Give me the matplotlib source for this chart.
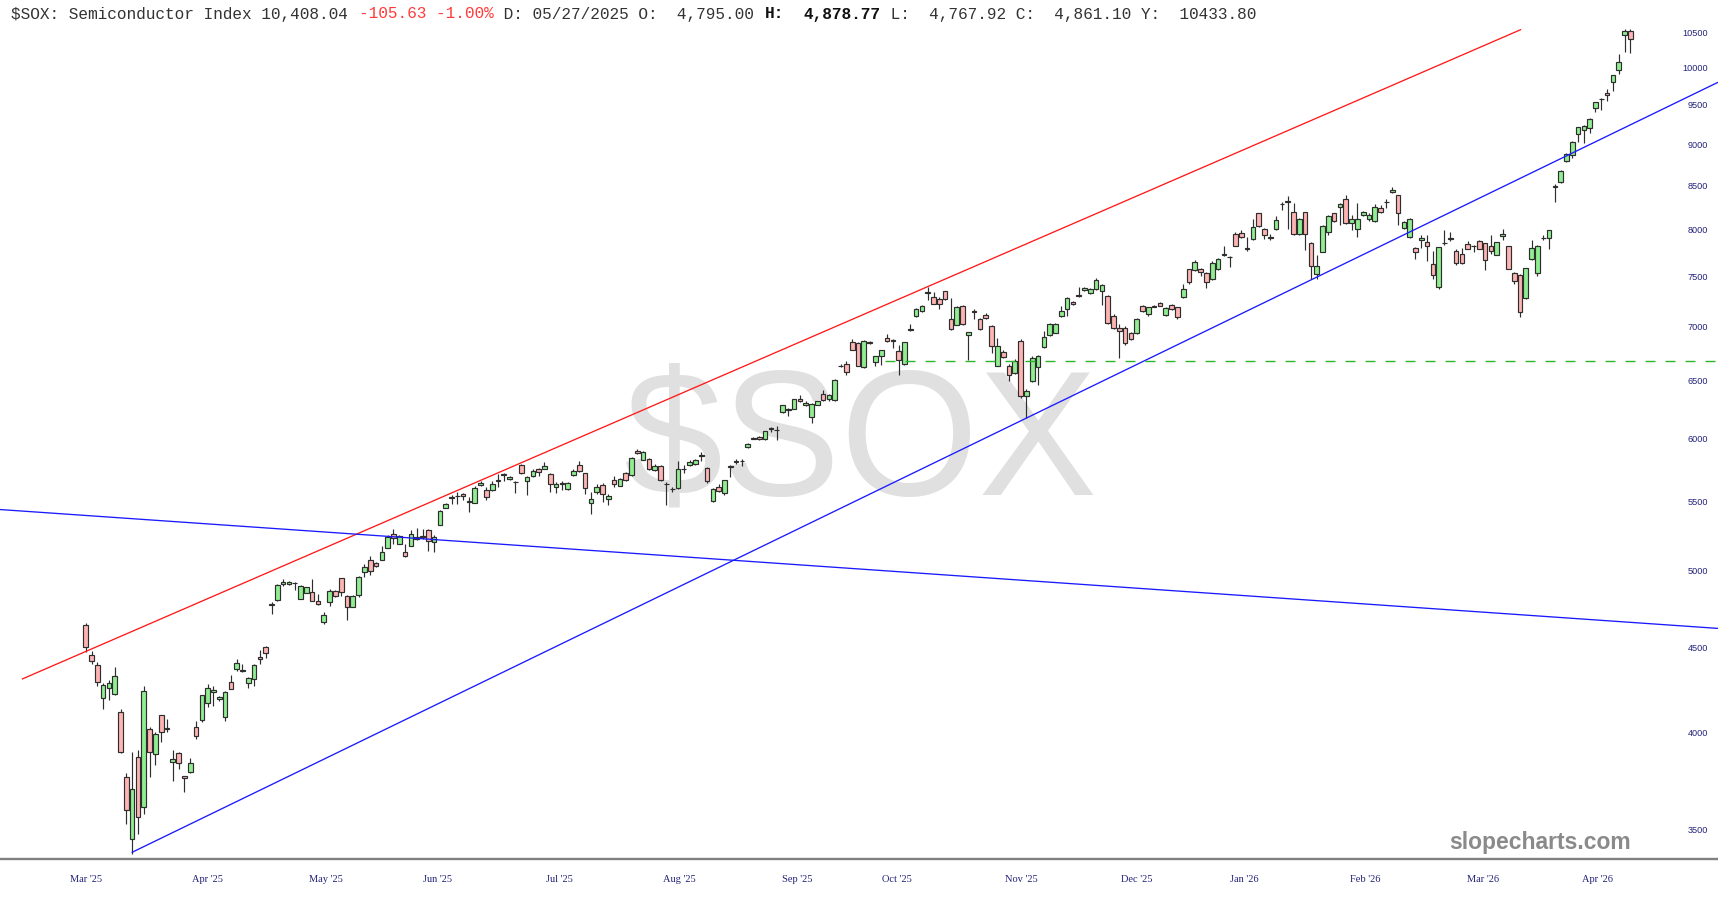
import matplotlib
matplotlib.use('Agg')
import matplotlib.pyplot as plt
import numpy as np
from matplotlib.ticker import FixedLocator, NullLocator

# ---------------- data ----------------
opens = [
    4641, 4450, 4388, 4196, 4253, 4218, 4115, 3764, 3453, 3868,
    3610, 4019, 3884, 4097, 4020, 3843, 3889, 3766, 3790, 4033,
    4071, 4168, 4232, 4187, 4085, 4289, 4363, 4355, 4284, 4307,
    4440, 4502, 4775, 4800, 4905, 4910, 4918, 4809, 4848, 4852,
    4794, 4657, 4790, 4863, 4950, 4826, 4757, 4833, 4989, 5072,
    5055, 5072, 5159, 5261, 5190, 5132, 5174, 5235, 5237, 5290,
    5201, 5326, 5452, 5525, 5538, 5556, 5502, 5491, 5627, 5587,
    5587, 5660, 5706, 5675, 5651, 5781, 5654, 5694, 5754, 5754,
    5714, 5609, 5633, 5592, 5703, 5781, 5716, 5490, 5570, 5627,
    5516, 5667, 5622, 5716, 5705, 5892, 5826, 5832, 5740, 5776,
    5635, 5597, 5601, 5749, 5781, 5789, 5856, 5757, 5500, 5609,
    5561, 5770, 5808, 5816, 5925, 6006, 6014, 5992, 6081, 6067,
    6221, 6250, 6250, 6336, 6285, 6179, 6285, 6380, 6330, 6322,
    6625, 6651, 6855, 6840, 6621, 6852, 6664, 6725, 6886, 6866,
    6766, 6648, 6970, 7097, 7153, 7335, 7287, 7270, 7347, 7077,
    7017, 7197, 6917, 7137, 7077, 7113, 7003, 6630, 6757, 6630,
    6568, 6864, 6357, 6489, 6618, 6803, 6920, 6941, 7097, 7170,
    7243, 7300, 7363, 7330, 7370, 7353, 7297, 7097, 6988, 6988,
    6938, 6938, 7203, 7120, 7195, 7227, 7113, 7210, 7187, 7287,
    7573, 7566, 7580, 7538, 7470, 7573, 7725, 7703, 7948, 7962,
    7790, 7896, 8179, 8008, 7911, 8008, 8283, 8323, 8198, 7948,
    8191, 7851, 7528, 7758, 7972, 8179, 8255, 8343, 8076, 8008,
    8160, 8122, 8094, 8236, 8309, 8424, 8386, 8019, 7913, 7799,
    7885, 7868, 7625, 7387, 7848, 7900, 7764, 7736, 7840, 7821,
    7875, 7851, 7816, 7729, 7927, 7816, 7538, 7514, 7277, 7677,
    7538, 7908, 7903, 8495, 8540, 8796, 8866, 9121, 9175, 9204,
    9454, 9576, 9657, 9810, 9972, 10453, 10518,
]
highs = [
    4652, 4474, 4409, 4284, 4298, 4375, 4134, 3782, 3894, 3903,
    4263, 4033, 4003, 4100, 4075, 3907, 3892, 3768, 3860, 4065,
    4211, 4278, 4263, 4205, 4233, 4330, 4425, 4396, 4318, 4396,
    4483, 4508, 4788, 4905, 4940, 4930, 4920, 4902, 4890, 4939,
    4844, 4725, 4876, 4870, 4952, 4835, 4835, 4965, 5043, 5103,
    5062, 5171, 5254, 5295, 5250, 5186, 5290, 5301, 5298, 5295,
    5254, 5435, 5490, 5548, 5574, 5562, 5535, 5615, 5660, 5614,
    5660, 5708, 5721, 5700, 5656, 5790, 5695, 5750, 5762, 5804,
    5722, 5646, 5654, 5648, 5750, 5816, 5722, 5570, 5630, 5640,
    5560, 5694, 5680, 5725, 5845, 5910, 5893, 5838, 5790, 5782,
    5650, 5610, 5816, 5784, 5820, 5830, 5887, 5765, 5602, 5630,
    5668, 5784, 5830, 5830, 5965, 6014, 6020, 6063, 6090, 6106,
    6283, 6258, 6336, 6371, 6320, 6300, 6320, 6410, 6380, 6509,
    6645, 6676, 6880, 6850, 6870, 6864, 6725, 6780, 6926, 6880,
    6824, 6855, 7020, 7177, 7210, 7387, 7343, 7290, 7355, 7277,
    7200, 7205, 6950, 7170, 7085, 7130, 7010, 6886, 6775, 6645,
    6690, 6880, 6418, 6720, 6730, 6956, 7030, 7030, 7203, 7287,
    7253, 7387, 7387, 7380, 7487, 7420, 7305, 7120, 7020, 7003,
    6950, 7080, 7213, 7190, 7210, 7237, 7187, 7217, 7193, 7420,
    7580, 7666, 7590, 7545, 7660, 7694, 7816, 7710, 7972, 7990,
    7920, 8122, 8187, 8015, 7955, 8148, 8311, 8375, 8293, 8130,
    8198, 7860, 7719, 8050, 8165, 8190, 8300, 8386, 8160, 8293,
    8210, 8180, 8285, 8275, 8345, 8481, 8393, 8092, 8130, 7805,
    7944, 7944, 7771, 7815, 7997, 7972, 7790, 7800, 7880, 7830,
    7890, 7858, 7944, 7868, 8010, 7822, 7545, 7520, 7590, 7885,
    7835, 7935, 8000, 8516, 8690, 8885, 9035, 9215, 9235, 9334,
    9540, 9588, 9704, 9900, 10192, 10541, 10541,
]
lows = [
    4467, 4396, 4263, 4134, 4182, 4214, 3890, 3528, 3385, 3480,
    3574, 3760, 3825, 3948, 4000, 3742, 3802, 3686, 3782, 3965,
    4056, 4144, 4150, 4180, 4065, 4245, 4352, 4350, 4253, 4263,
    4394, 4433, 4708, 4795, 4895, 4900, 4870, 4805, 4845, 4795,
    4770, 4642, 4762, 4822, 4826, 4671, 4755, 4820, 4953, 4972,
    5025, 5070, 5155, 5190, 5185, 5096, 5170, 5218, 5220, 5139,
    5132, 5322, 5448, 5483, 5478, 5508, 5423, 5485, 5620, 5513,
    5580, 5614, 5654, 5668, 5561, 5712, 5548, 5690, 5694, 5750,
    5574, 5561, 5587, 5587, 5695, 5730, 5556, 5408, 5555, 5495,
    5471, 5614, 5615, 5660, 5700, 5875, 5820, 5745, 5735, 5660,
    5471, 5570, 5595, 5716, 5775, 5780, 5816, 5641, 5495, 5570,
    5548, 5686, 5795, 5776, 5918, 5995, 5985, 5988, 6055, 5984,
    6215, 6187, 6245, 6305, 6275, 6130, 6278, 6315, 6320, 6313,
    6623, 6544, 6775, 6625, 6612, 6835, 6633, 6639, 6855, 6794,
    6544, 6640, 6956, 7090, 7145, 7263, 7215, 7170, 7262, 6965,
    7010, 7013, 6685, 7070, 6965, 7070, 6750, 6625, 6700, 6490,
    6560, 6345, 6166, 6480, 6457, 6798, 6912, 6935, 7090, 7097,
    7210, 7293, 7355, 7325, 7365, 7210, 7020, 6980, 6700, 6820,
    6870, 6930, 7137, 7097, 7190, 7197, 7097, 7163, 7077, 7280,
    7420, 7556, 7503, 7377, 7465, 7566, 7718, 7597, 7822, 7905,
    7764, 7890, 8030, 7892, 7890, 8000, 8216, 8008, 7945, 7940,
    7781, 7470, 7470, 7755, 7940, 8085, 8055, 8065, 7990, 7913,
    8150, 8090, 8085, 8190, 8245, 8415, 8046, 8010, 7905, 7677,
    7799, 7660, 7470, 7370, 7833, 7875, 7615, 7630, 7785, 7754,
    7785, 7566, 7740, 7720, 7890, 7575, 7420, 7087, 7270, 7670,
    7505, 7885, 7789, 8305, 8530, 8785, 8826, 9028, 9016, 9133,
    9404, 9437, 9546, 9685, 9917, 10223, 10204,
]
closes = [
    4502, 4413, 4289, 4273, 4284, 4323, 3894, 3597, 3698, 3562,
    4233, 3894, 3991, 4003, 4026, 3858, 3837, 3756, 3837, 3983,
    4211, 4253, 4240, 4200, 4230, 4249, 4400, 4362, 4312, 4387,
    4429, 4463, 4770, 4900, 4925, 4922, 4915, 4896, 4885, 4798,
    4773, 4701, 4859, 4826, 4855, 4757, 4826, 4957, 5024, 4995,
    5029, 5127, 5235, 5232, 5242, 5103, 5261, 5222, 5243, 5206,
    5235, 5430, 5483, 5532, 5545, 5542, 5498, 5606, 5641, 5530,
    5635, 5665, 5710, 5689, 5647, 5716, 5689, 5735, 5730, 5776,
    5635, 5633, 5638, 5641, 5735, 5735, 5601, 5516, 5614, 5556,
    5542, 5633, 5673, 5667, 5838, 5881, 5887, 5751, 5776, 5667,
    5630, 5593, 5751, 5753, 5804, 5822, 5860, 5659, 5595, 5582,
    5662, 5776, 5812, 5814, 5957, 5998, 5998, 6057, 6085, 6071,
    6278, 6241, 6330, 6313, 6302, 6293, 6313, 6322, 6371, 6500,
    6632, 6577, 6781, 6630, 6864, 6846, 6716, 6772, 6861, 6860,
    6679, 6849, 6975, 7170, 7200, 7340, 7220, 7215, 7270, 6972,
    7193, 7020, 6944, 7153, 6972, 7080, 6818, 6812, 6707, 6547,
    6670, 6358, 6408, 6701, 6720, 6898, 7020, 7020, 7147, 7277,
    7217, 7305, 7377, 7370, 7462, 7410, 7030, 6988, 6956, 6840,
    6880, 7070, 7147, 7187, 7199, 7203, 7177, 7170, 7087, 7370,
    7443, 7649, 7549, 7437, 7635, 7677, 7733, 7699, 7826, 7913,
    7795, 8026, 8038, 7944, 7915, 8102, 8288, 8305, 7955, 8122,
    7955, 7608, 7608, 8034, 8148, 8094, 8285, 8071, 8122, 8122,
    8198, 8160, 8247, 8198, 8313, 8451, 8179, 8082, 8122, 7758,
    7903, 7816, 7510, 7806, 7855, 7906, 7642, 7642, 7792, 7825,
    7792, 7670, 7771, 7861, 7955, 7580, 7457, 7143, 7583, 7799,
    7823, 7912, 7990, 8488, 8675, 8875, 9028, 9209, 9225, 9312,
    9532, 9582, 9635, 9893, 10075, 10514, 10408,
]

month_labels = ["Mar '25", "Apr '25", "May '25", "Jun '25", "Jul '25", "Aug '25",
                "Sep '25", "Oct '25", "Nov '25", "Dec '25", "Jan '26", "Feb '26",
                "Mar '26", "Apr '26"]
month_pos = [0.0, 21.0, 41.4, 60.6, 81.6, 102.2, 122.5, 139.7, 161.2, 181.0,
             199.5, 220.3, 240.6, 260.4]

price_ticks = [3500, 4000, 4500, 5000, 5500, 6000, 6500, 7000, 7500, 8000,
               8500, 9000, 9500, 10000, 10500]

# trend lines: (bar index, price) end points
red_channel = [(-11.0, 4305), (247.2, 10540)]
blue_rising = [(7.9, 3390), (281.1, 9800)]
blue_falling = [(-14.8, 5439), (281.1, 4617)]
green_level = 6674
green_start = 137.7

title_parts = [
    ("$SOX: Semiconductor Index 10,408.04 ", '#333333', 'normal'),
    ("-105.63 -1.00%", '#ff3b3b', 'normal'),
    (" D: 05/27/2025 O:  4,795.00 ", '#333333', 'normal'),
    ("H:", '#111111', 'bold'),
    ("  ", '#333333', 'normal'),
    ("4,878.77", '#111111', 'bold'),
    (" L:  4,767.92 C:  4,861.10 Y:  10433.80", '#333333', 'normal'),
]

# ---------------- figure ----------------
W, H, DPI = 1718, 900, 100
fig = plt.figure(figsize=(W / DPI, H / DPI), dpi=DPI)
fig.patch.set_facecolor('white')
ax_bottom_px = 859
ax = fig.add_axes([0, 1 - ax_bottom_px / H, 1, ax_bottom_px / H])
ax.set_facecolor('white')
ax.set_yscale('log')
ax.set_xlim(-14.76, 281.1)
ax.set_ylim(3360, 10977)

o = np.array(opens, float)
h = np.array(highs, float)
l = np.array(lows, float)
c = np.array(closes, float)
x = np.arange(len(c))
up = c >= o
fill = np.where(up, '#90ee90', '#ffb4b4')

# watermark
ax.text(0.5006, 0.478, '$SOX', transform=ax.transAxes, ha='center', va='center',
        fontsize=128, color='#e0e0e0', family='Liberation Sans', zorder=0)

ax.vlines(x, l, h, color='#2e2e2e', linewidth=0.85, zorder=2)
ax.bar(x, np.abs(c - o), bottom=np.minimum(o, c), width=0.8, color=fill,
       edgecolor='#2e2e2e', linewidth=0.85, zorder=3)

for seg, col in [(red_channel, '#ff1a1a'), (blue_rising, '#1a1aff'), (blue_falling, '#1a1aff')]:
    ax.plot([seg[0][0], seg[1][0]], [seg[0][1], seg[1][1]], color=col, lw=0.95, zorder=4,
            solid_capstyle='butt')
ax.plot([green_start, 281.1], [green_level, green_level], color='#2cb52c', lw=1.0,
        dashes=(7.2, 7.2), zorder=4)

# axes styling
for s in ['top', 'left', 'right']:
    ax.spines[s].set_visible(False)
ax.spines['bottom'].set_color('#808080')
ax.spines['bottom'].set_linewidth(1.7)

ax.yaxis.tick_right()
ax.yaxis.set_major_locator(FixedLocator(price_ticks))
ax.yaxis.set_minor_locator(NullLocator())
ax.set_yticklabels([str(v) for v in price_ticks])
ax.tick_params(axis='y', length=0, pad=-7.2, labelsize=6.6, labelcolor='#22227a')
for t in ax.get_yticklabels():
    t.set_horizontalalignment('right')
    t.set_fontfamily('Liberation Sans')

ax.xaxis.set_major_locator(FixedLocator(month_pos))
ax.xaxis.set_minor_locator(NullLocator())
ax.set_xticklabels(month_labels)
ax.tick_params(axis='x', length=0, pad=11.5, labelsize=7.5, labelcolor='#22227a')
for t in ax.get_xticklabels():
    t.set_fontfamily('Liberation Serif')

# brand
fig.text(1540 / W, 1 - 842 / H, 'slopecharts.com', ha='center', va='center',
         fontsize=16.5, fontweight='bold', color='#8a8a8a', family='Liberation Sans')

# header line (monospace, placed cell by cell)
fs = 11.6
adv = 0.6 * fs * DPI / 72.0
n = 0
for txt, col, wt in title_parts:
    fig.text((11 + n * adv) / W, 1 - 14 / H, txt, ha='left', va='center', fontsize=fs,
             color=col, fontweight=wt, family='Liberation Mono')
    n += len(txt)

fig.savefig('out.png', dpi=DPI, facecolor='white')
